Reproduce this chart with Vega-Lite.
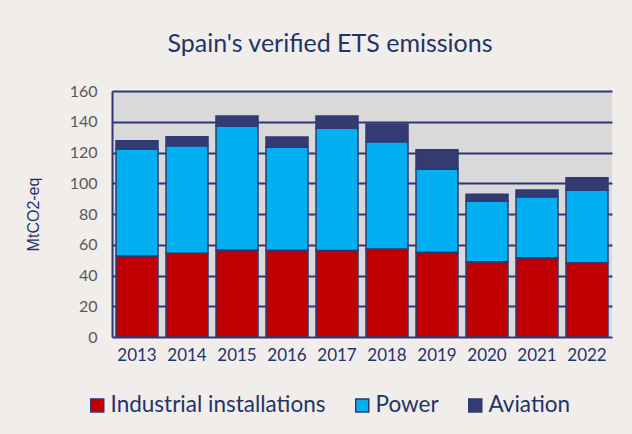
{
  "$schema": "https://vega.github.io/schema/vega-lite/v6.json",
  "width": 500,
  "height": 246,
  "autosize": {"type": "none"},
  "padding": {"left": 112, "top": 91, "right": 20, "bottom": 97},
  "background": "#f1edea",
  "title": {
    "text": "Spain's verified ETS emissions",
    "font": "Lato",
    "fontSize": 25,
    "fontWeight": "normal",
    "color": "#1f3468",
    "anchor": "middle",
    "dx": -32,
    "offset": 26
  },
  "data": {
    "values": [
      {"year": "2013", "sector": "Industrial installations", "value": 52.7},
      {"year": "2013", "sector": "Power", "value": 69.6},
      {"year": "2013", "sector": "Aviation", "value": 5.4},
      {"year": "2014", "sector": "Industrial installations", "value": 54.4},
      {"year": "2014", "sector": "Power", "value": 70.0},
      {"year": "2014", "sector": "Aviation", "value": 5.9},
      {"year": "2015", "sector": "Industrial installations", "value": 56.6},
      {"year": "2015", "sector": "Power", "value": 80.6},
      {"year": "2015", "sector": "Aviation", "value": 6.5},
      {"year": "2016", "sector": "Industrial installations", "value": 56.4},
      {"year": "2016", "sector": "Power", "value": 67.0},
      {"year": "2016", "sector": "Aviation", "value": 6.7},
      {"year": "2017", "sector": "Industrial installations", "value": 56.2},
      {"year": "2017", "sector": "Power", "value": 79.5},
      {"year": "2017", "sector": "Aviation", "value": 8.0},
      {"year": "2018", "sector": "Industrial installations", "value": 57.2},
      {"year": "2018", "sector": "Power", "value": 69.8},
      {"year": "2018", "sector": "Aviation", "value": 11.5},
      {"year": "2019", "sector": "Industrial installations", "value": 55.1},
      {"year": "2019", "sector": "Power", "value": 54.0},
      {"year": "2019", "sector": "Aviation", "value": 12.7},
      {"year": "2020", "sector": "Industrial installations", "value": 49.0},
      {"year": "2020", "sector": "Power", "value": 39.5},
      {"year": "2020", "sector": "Aviation", "value": 4.3},
      {"year": "2021", "sector": "Industrial installations", "value": 51.6},
      {"year": "2021", "sector": "Power", "value": 39.7},
      {"year": "2021", "sector": "Aviation", "value": 4.3},
      {"year": "2022", "sector": "Industrial installations", "value": 48.3},
      {"year": "2022", "sector": "Power", "value": 47.3},
      {"year": "2022", "sector": "Aviation", "value": 8.0}
    ]
  },
  "transform": [
    {"calculate": "indexof(['Industrial installations', 'Power', 'Aviation'], datum.sector)", "as": "stackOrder"}
  ],
  "mark": {"type": "bar", "stroke": "#2f3874", "strokeWidth": 1.5},
  "encoding": {
    "x": {
      "field": "year",
      "type": "ordinal",
      "scale": {"paddingInner": 0.16, "paddingOuter": 0.08},
      "axis": {
        "title": null,
        "labelAngle": 0,
        "labelFont": "Lato",
        "labelFontSize": 17,
        "labelColor": "#1f3468",
        "labelPadding": 10,
        "ticks": false,
        "domain": false
      }
    },
    "y": {
      "field": "value",
      "type": "quantitative",
      "stack": "zero",
      "scale": {"domain": [0, 160]},
      "axis": {
        "title": "MtCO2-eq",
        "titleFont": "Liberation Sans",
        "titleFontSize": 16,
        "titleFontWeight": "normal",
        "titleColor": "#1f3468",
        "titlePadding": 28,
        "values": [0, 20, 40, 60, 80, 100, 120, 140, 160],
        "labelFont": "Lato",
        "labelFontSize": 16,
        "labelColor": "#595959",
        "labelPadding": 15,
        "ticks": false,
        "domain": true,
        "domainColor": "#2f3874",
        "domainWidth": 2,
        "grid": true,
        "gridColor": "#2f3874",
        "gridWidth": 2,
        "gridOpacity": 1
      }
    },
    "order": {"field": "stackOrder", "type": "quantitative", "sort": "ascending"},
    "color": {
      "field": "sector",
      "type": "nominal",
      "scale": {
        "domain": ["Industrial installations", "Power", "Aviation"],
        "range": ["#c00000", "#00b0f0", "#343a72"]
      },
      "legend": {
        "title": null,
        "orient": "none",
        "direction": "horizontal",
        "legendX": -26,
        "legendY": 303,
        "symbolType": "square",
        "symbolSize": 169,
        "symbolStrokeColor": "#2f3874",
        "symbolStrokeWidth": 1.5,
        "labelFont": "Lato",
        "labelFontSize": 22.5,
        "labelColor": "#1f3468",
        "labelOffset": 2,
        "columnPadding": 25,
        "labelLimit": 400
      }
    }
  },
  "config": {
    "view": {"fill": "#d9d9d9", "stroke": null}
  }
}
